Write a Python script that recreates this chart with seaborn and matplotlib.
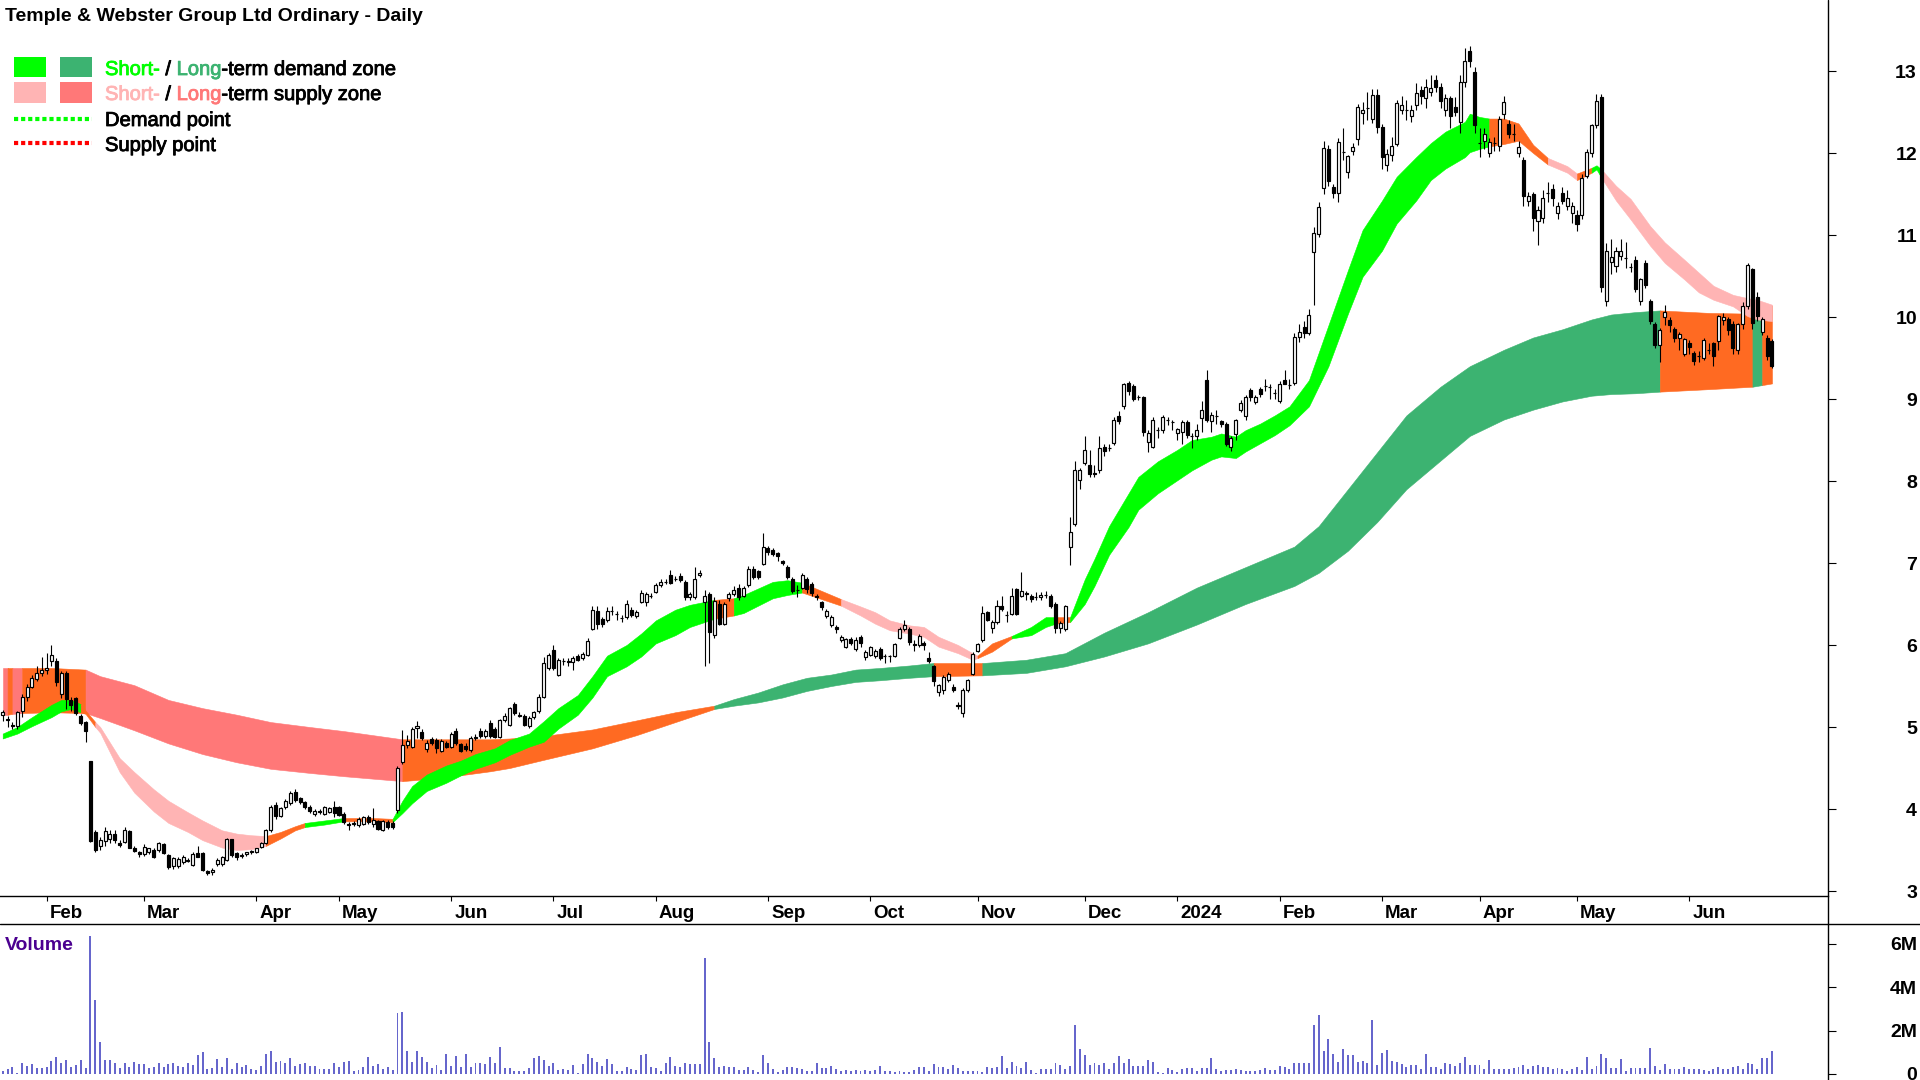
import numpy as np
import pandas as pd
import matplotlib
matplotlib.use("Agg")
import matplotlib.pyplot as plt
import seaborn as sns
from matplotlib.patches import Rectangle
from matplotlib.lines import Line2D
from matplotlib.transforms import blended_transform_factory
import matplotlib.patheffects as pe

# ------------------------------------------------------------------ data
title = "Temple & Webster Group Ltd Ordinary - Daily"
start_date = "2023-01-18"
end_date = "2024-06-27"
asx_holidays = ["2023-01-26", "2023-04-07", "2023-04-10", "2023-04-25", "2023-06-12",
                "2023-12-25", "2023-12-26", "2024-01-01", "2024-01-26", "2024-03-29",
                "2024-04-01", "2024-04-25", "2024-06-10"]
month_labels = ["Feb", "Mar", "Apr", "May", "Jun", "Jul", "Aug", "Sep", "Oct", "Nov",
                "Dec", "2024", "Feb", "Mar", "Apr", "May", "Jun"]

opens = [5.15,5.10,5.03,5.01,5.19,5.36,5.49,5.59,5.66,5.70,
 5.80,5.81,5.40,5.66,5.33,5.35,5.13,5.06,4.58,3.72,
 3.55,3.61,3.63,3.70,3.58,3.60,3.73,3.53,3.47,3.45,
 3.47,3.50,3.50,3.57,3.44,3.30,3.30,3.35,3.38,3.32,
 3.46,3.46,3.24,3.23,3.33,3.33,3.38,3.63,3.46,3.43,
 3.45,3.47,3.48,3.54,3.59,3.74,4.05,3.92,4.02,4.07,
 4.21,4.13,4.08,4.03,3.94,3.97,3.94,3.96,4.03,4.02,
 3.94,3.82,3.82,3.80,3.82,3.90,3.82,3.85,3.75,3.84,
 3.83,3.99,4.57,4.78,4.76,4.99,4.94,4.73,4.85,4.84,
 4.71,4.81,4.76,4.95,4.79,4.77,4.72,4.86,4.95,4.89,
 5.05,4.97,4.88,5.08,5.03,5.28,5.15,5.14,5.01,5.12,
 5.19,5.37,5.72,5.94,5.64,5.80,5.80,5.79,5.86,5.84,
 5.88,6.20,6.42,6.32,6.30,6.41,6.38,6.33,6.34,6.43,
 6.35,6.53,6.52,6.60,6.65,6.73,6.77,6.85,6.81,6.84,
 6.77,6.58,6.58,6.85,6.53,6.62,6.12,6.50,6.26,6.57,
 6.62,6.70,6.60,6.73,6.93,6.90,6.99,7.18,7.16,7.12,
 7.02,6.95,6.81,6.67,6.70,6.80,6.75,6.60,6.52,6.35,
 6.24,6.22,6.06,5.98,6.07,5.95,6.10,5.85,5.88,5.87,
 5.95,5.86,5.86,5.87,6.09,6.19,6.20,6.01,6.00,6.02,
 5.84,5.74,5.43,5.45,5.57,5.49,5.27,5.17,5.45,5.65,
 5.93,6.06,6.40,6.21,6.28,6.48,6.36,6.38,6.68,6.60,
 6.63,6.60,6.58,6.58,6.61,6.60,6.50,6.21,6.19,7.20,
 7.48,8.01,8.22,8.20,8.10,8.13,8.41,8.40,8.46,8.79,
 8.91,9.20,9.16,9.02,9.02,8.48,8.42,8.62,8.62,8.74,
 8.72,8.59,8.60,8.72,8.55,8.55,8.77,9.23,8.73,8.79,
 8.73,8.69,8.41,8.57,8.87,8.79,9.11,8.96,9.12,9.16,
 9.15,9.07,8.97,9.23,9.17,9.19,9.76,9.88,9.80,10.79,
 11.01,11.57,12.05,11.59,11.51,12.01,11.77,12.02,12.17,12.49,
 12.55,12.42,12.71,12.32,11.85,11.97,12.11,12.52,12.53,12.45,
 12.58,12.77,12.67,12.75,12.89,12.81,12.52,12.67,12.56,12.38,
 12.86,13.25,12.99,12.12,12.15,12.00,12.12,12.09,12.48,12.35,
 12.23,12.00,11.91,11.42,11.50,11.17,11.21,11.51,11.56,11.27,
 11.51,11.35,11.27,11.25,11.25,11.72,12.00,12.34,12.68,10.20,
 10.67,10.62,10.75,10.72,10.61,10.70,10.20,10.66,10.20,9.92,
 9.66,10.00,9.96,9.85,9.75,9.55,9.68,9.56,9.52,9.50,
 9.60,9.68,9.71,9.96,9.97,9.91,9.60,9.91,10.14,10.58,
 10.24,9.82,9.75,9.71]

highs = [5.21,5.13,5.06,5.20,5.40,5.52,5.63,5.75,5.85,5.90,
 6.00,5.84,5.68,5.68,5.36,5.37,5.16,5.07,4.59,3.75,
 3.66,3.78,3.74,3.74,3.62,3.78,3.75,3.55,3.49,3.57,
 3.53,3.52,3.60,3.58,3.45,3.41,3.41,3.44,3.40,3.47,
 3.55,3.48,3.26,3.28,3.40,3.43,3.65,3.64,3.48,3.46,
 3.48,3.50,3.53,3.60,3.76,4.05,4.08,4.03,4.12,4.22,
 4.24,4.15,4.10,4.05,4.00,4.00,4.04,4.03,4.10,4.04,
 3.96,3.84,3.85,3.90,3.92,3.93,4.01,3.87,3.86,3.86,
 3.85,4.52,4.96,4.90,5.00,5.07,4.97,4.84,4.88,4.86,
 4.85,4.83,4.94,4.99,4.81,4.80,4.89,4.92,4.99,4.97,
 5.08,5.00,5.10,5.17,5.25,5.31,5.18,5.16,5.13,5.20,
 5.40,5.85,5.90,6.00,5.84,5.84,5.84,5.86,5.89,5.91,
 6.08,6.47,6.48,6.34,6.46,6.48,6.42,6.36,6.55,6.46,
 6.43,6.67,6.65,6.63,6.76,6.80,6.80,6.92,6.84,6.88,
 6.79,6.65,6.95,6.92,6.67,6.65,6.58,6.55,6.52,6.65,
 6.72,6.74,6.72,6.96,6.96,6.92,7.37,7.21,7.18,7.14,
 7.04,6.97,6.83,6.73,6.88,6.83,6.77,6.62,6.54,6.44,
 6.36,6.25,6.12,6.09,6.10,6.10,6.12,5.94,5.99,5.95,
 5.97,5.89,5.88,6.03,6.22,6.30,6.22,6.06,6.14,6.05,
 5.91,5.76,5.53,5.63,5.67,5.52,5.30,5.47,5.59,5.91,
 6.03,6.48,6.42,6.30,6.55,6.60,6.42,6.70,6.70,6.89,
 6.66,6.62,6.65,6.65,6.66,6.62,6.52,6.29,6.49,7.56,
 8.24,8.16,8.55,8.38,8.20,8.55,8.45,8.45,8.78,8.85,
 9.20,9.22,9.18,9.05,9.04,8.62,8.78,8.66,8.80,8.78,
 8.75,8.65,8.74,8.74,8.58,8.70,8.98,9.35,8.84,8.86,
 8.75,8.72,8.55,8.76,8.99,9.05,9.14,9.05,9.15,9.25,
 9.18,9.12,9.22,9.35,9.25,9.80,9.92,9.95,10.10,11.10,
 11.40,12.15,12.10,11.62,12.18,12.30,11.98,12.12,12.60,12.62,
 12.75,12.78,12.78,12.35,12.05,12.20,12.65,12.70,12.65,12.58,
 12.85,12.82,12.90,12.95,12.95,12.85,12.72,12.70,12.68,12.95,
 13.28,13.30,13.05,12.30,12.30,12.18,12.20,12.45,12.70,12.40,
 12.35,12.15,11.95,11.52,11.52,11.35,11.55,11.65,11.62,11.40,
 11.58,11.55,11.40,11.30,11.75,12.05,12.35,12.72,12.72,10.90,
 10.95,10.85,10.95,10.92,10.66,10.75,10.48,10.70,10.22,9.94,
 9.86,10.15,10.00,9.88,9.82,9.75,9.72,9.58,9.58,9.74,
 9.68,9.70,10.03,10.05,10.00,9.95,9.93,10.18,10.66,10.60,
 10.30,10.00,9.78,9.73]

lows = [5.07,5.00,4.97,4.98,5.12,5.32,5.47,5.56,5.62,5.65,
 5.75,5.50,5.35,5.22,5.20,5.15,5.03,4.82,3.60,3.48,
 3.50,3.55,3.58,3.58,3.54,3.58,3.52,3.47,3.42,3.43,
 3.45,3.40,3.48,3.45,3.27,3.27,3.28,3.33,3.35,3.30,
 3.41,3.25,3.20,3.20,3.30,3.31,3.36,3.42,3.38,3.40,
 3.43,3.45,3.46,3.52,3.57,3.72,3.88,3.90,4.00,4.05,
 4.09,4.06,4.00,3.95,3.92,3.94,3.93,3.95,3.90,3.91,
 3.82,3.75,3.79,3.78,3.80,3.82,3.78,3.74,3.73,3.76,
 3.76,3.95,4.55,4.75,4.74,4.86,4.84,4.70,4.78,4.68,
 4.69,4.74,4.74,4.78,4.69,4.71,4.70,4.84,4.87,4.87,
 4.87,4.86,4.86,5.06,5.01,5.15,5.12,5.01,4.99,5.10,
 5.17,5.35,5.70,5.70,5.62,5.76,5.75,5.70,5.80,5.82,
 5.86,6.18,6.20,6.22,6.28,6.37,6.30,6.28,6.32,6.34,
 6.33,6.51,6.48,6.57,6.63,6.71,6.74,6.74,6.78,6.77,
 6.55,6.55,6.56,6.83,5.75,5.78,6.08,6.24,6.24,6.54,
 6.60,6.55,6.58,6.71,6.81,6.80,6.97,7.10,7.08,7.02,
 6.97,6.80,6.63,6.59,6.68,6.64,6.60,6.55,6.43,6.33,
 6.22,6.15,6.04,5.96,6.00,5.93,5.98,5.82,5.86,5.84,
 5.82,5.78,5.79,5.85,6.07,6.17,6.00,5.93,5.98,5.94,
 5.78,5.50,5.38,5.40,5.55,5.43,5.22,5.12,5.43,5.63,
 5.91,6.04,6.29,6.15,6.26,6.42,6.28,6.36,6.36,6.58,
 6.55,6.52,6.55,6.55,6.57,6.45,6.15,6.15,6.17,6.98,
 7.45,7.90,8.20,8.05,8.05,8.10,8.30,8.36,8.44,8.70,
 8.88,9.05,8.97,8.99,8.55,8.35,8.40,8.52,8.58,8.68,
 8.62,8.50,8.45,8.52,8.40,8.50,8.60,8.72,8.60,8.70,
 8.66,8.43,8.37,8.50,8.84,8.74,8.98,8.94,9.03,9.10,
 9.00,9.00,8.95,9.18,9.12,9.17,9.70,9.74,9.78,10.15,
 10.98,11.50,11.60,11.45,11.40,11.92,11.70,11.98,12.10,12.35,
 12.40,12.36,12.25,11.80,11.78,11.90,12.08,12.48,12.40,12.38,
 12.52,12.60,12.55,12.70,12.75,12.55,12.45,12.30,12.45,12.25,
 12.80,13.05,12.25,11.95,12.05,11.95,12.02,12.02,12.42,12.18,
 12.15,11.95,11.35,11.35,11.05,10.88,11.15,11.40,11.35,11.20,
 11.38,11.30,11.15,11.05,11.20,11.70,11.95,12.30,10.30,10.14,
 10.52,10.55,10.70,10.60,10.55,10.30,10.15,10.35,9.92,9.62,
 9.45,9.90,9.82,9.70,9.60,9.52,9.55,9.42,9.45,9.47,
 9.55,9.40,9.60,9.90,9.78,9.55,9.55,9.85,10.10,9.85,
 9.95,9.78,9.48,9.38]

closes = [5.18,5.09,5.01,5.18,5.36,5.49,5.60,5.66,5.70,5.72,
 5.88,5.55,5.66,5.34,5.27,5.17,5.05,4.95,3.61,3.50,
 3.62,3.73,3.70,3.62,3.56,3.74,3.53,3.49,3.45,3.54,
 3.52,3.41,3.58,3.46,3.29,3.40,3.39,3.41,3.37,3.45,
 3.42,3.26,3.22,3.26,3.38,3.41,3.63,3.44,3.42,3.44,
 3.47,3.49,3.52,3.58,3.74,4.03,3.91,4.01,4.10,4.19,
 4.11,4.08,4.02,3.97,3.98,3.96,4.02,4.01,3.95,3.93,
 3.84,3.80,3.83,3.88,3.90,3.84,3.87,3.76,3.85,3.78,
 3.78,4.50,4.78,4.83,4.97,5.01,4.86,4.81,4.80,4.75,
 4.83,4.76,4.91,4.81,4.71,4.73,4.86,4.88,4.89,4.95,
 4.89,4.88,5.08,5.13,5.23,5.17,5.14,5.03,5.11,5.18,
 5.37,5.78,5.88,5.72,5.82,5.81,5.79,5.84,5.82,5.89,
 6.05,6.43,6.26,6.26,6.42,6.42,6.38,6.33,6.50,6.36,
 6.40,6.63,6.62,6.60,6.73,6.77,6.77,6.76,6.81,6.79,
 6.59,6.62,6.81,6.88,6.60,6.16,6.54,6.26,6.50,6.62,
 6.67,6.59,6.69,6.93,6.83,6.83,7.20,7.14,7.11,7.09,
 7.00,6.83,6.66,6.67,6.85,6.68,6.64,6.58,6.46,6.42,
 6.34,6.20,6.10,6.07,6.03,6.06,6.02,5.92,5.97,5.93,
 5.84,5.87,5.86,6.01,6.19,6.24,6.04,6.00,6.11,6.00,
 5.80,5.56,5.51,5.61,5.65,5.45,5.26,5.45,5.57,5.89,
 6.01,6.39,6.31,6.28,6.48,6.44,6.36,6.60,6.38,6.66,
 6.62,6.56,6.58,6.61,6.61,6.47,6.21,6.27,6.47,7.38,
 8.13,8.13,8.38,8.09,8.09,8.40,8.36,8.40,8.74,8.73,
 9.18,9.10,9.00,9.02,8.60,8.58,8.74,8.62,8.78,8.74,
 8.72,8.63,8.72,8.56,8.55,8.62,8.87,8.74,8.80,8.79,
 8.69,8.45,8.53,8.74,8.95,9.02,9.03,9.03,9.06,9.16,
 9.15,9.07,9.18,9.18,9.17,9.76,9.82,9.80,10.03,11.02,
 11.34,12.06,11.66,11.51,12.14,12.01,11.96,12.07,12.56,12.53,
 12.55,12.71,12.32,11.95,11.99,12.09,12.61,12.58,12.53,12.53,
 12.73,12.70,12.81,12.79,12.81,12.63,12.67,12.45,12.50,12.86,
 13.12,13.12,12.34,12.12,12.23,12.14,12.12,12.41,12.62,12.23,
 12.23,12.07,11.47,11.47,11.21,11.30,11.45,11.51,11.45,11.35,
 11.41,11.45,11.35,11.14,11.70,12.01,12.34,12.64,10.36,10.80,
 10.73,10.80,10.80,10.72,10.61,10.34,10.46,10.39,9.95,9.66,
 9.84,10.06,9.90,9.75,9.79,9.73,9.63,9.46,9.52,9.72,
 9.60,9.52,10.01,10.00,9.84,9.62,9.91,10.14,10.64,9.93,
 10.01,9.97,9.53,9.40]

volume_m = [0.15,0.21,0.33,0.06,0.49,0.37,0.46,0.26,0.27,0.33,
 0.61,0.79,0.49,0.64,0.33,0.41,0.64,0.26,6.39,3.42,
 1.46,0.64,0.64,0.49,0.26,0.49,0.33,0.56,0.46,0.46,
 0.26,0.33,0.49,0.33,0.46,0.49,0.37,0.33,0.49,0.41,
 0.87,1.00,0.23,0.29,0.67,0.33,0.72,0.21,0.49,0.33,
 0.41,0.21,0.18,0.37,0.94,1.05,0.55,0.59,0.50,0.72,
 0.37,0.46,0.49,0.37,0.37,0.21,0.21,0.23,0.53,0.33,
 0.55,0.59,0.15,0.18,0.33,0.78,0.37,0.46,0.23,0.33,
 0.18,2.83,2.88,1.05,0.56,1.05,0.79,0.55,0.26,0.40,
 0.18,0.94,0.37,0.82,0.33,0.94,0.33,0.49,0.49,0.46,
 0.78,0.49,1.23,0.29,0.29,0.14,0.14,0.14,0.26,0.72,
 0.82,0.64,0.37,0.49,0.18,0.21,0.18,0.41,0.06,0.46,
 0.94,0.73,0.56,0.37,0.67,0.46,0.14,0.14,0.30,0.23,
 0.18,0.87,0.94,0.30,0.26,0.15,0.49,0.78,0.37,0.33,
 0.49,0.46,0.46,0.46,5.33,1.49,0.72,0.33,0.37,0.33,
 0.32,0.18,0.18,0.32,0.18,0.11,0.87,0.49,0.21,0.09,
 0.18,0.32,0.32,0.29,0.21,0.14,0.14,0.53,0.26,0.29,
 0.37,0.21,0.14,0.18,0.14,0.18,0.15,0.18,0.15,0.18,
 0.37,0.14,0.14,0.11,0.14,0.09,0.11,0.18,0.32,0.32,
 0.14,0.44,0.33,0.32,0.21,0.41,0.26,0.15,0.15,0.15,
 0.15,0.11,0.33,0.29,0.33,0.82,0.26,0.56,0.37,0.26,
 0.55,0.18,0.06,0.24,0.24,0.24,0.53,0.40,0.23,0.37,
 2.24,1.14,0.87,0.41,0.49,0.41,0.53,0.21,0.49,0.82,
 0.52,0.67,0.37,0.37,0.37,0.64,0.55,0.11,0.06,0.26,
 0.18,0.11,0.23,0.26,0.26,0.15,0.26,0.26,0.73,0.21,
 0.15,0.18,0.18,0.21,0.18,0.15,0.14,0.15,0.18,0.26,
 0.18,0.18,0.37,0.30,0.21,0.53,0.53,0.49,0.52,2.24,
 2.74,1.05,1.60,0.91,0.55,1.14,0.87,0.87,0.56,0.59,
 0.53,2.47,0.41,0.97,1.10,0.59,0.56,0.46,0.33,0.41,
 0.41,0.21,0.94,0.33,0.30,0.23,0.53,0.46,0.37,0.49,
 0.78,0.41,0.40,0.41,0.23,0.64,0.23,0.23,0.23,0.24,
 0.29,0.33,0.41,0.21,0.37,0.40,0.30,0.33,0.23,0.26,
 0.23,0.14,0.23,0.33,0.18,0.79,0.21,0.38,0.91,0.72,
 0.29,0.29,0.69,0.15,0.29,0.29,0.26,0.29,1.19,0.37,
 0.18,0.46,0.24,0.23,0.23,0.33,0.23,0.24,0.23,0.18,
 0.14,0.21,0.30,0.24,0.24,0.30,0.37,0.23,0.49,0.46,
 0.23,0.76,0.72,1.05]

# short-term zone: knot day, upper edge, lower edge, state of the following stretch
short_n = [0,3,6,10,12,14,16,17,19,20,24,27,31,34,38,41,45,48,51,54,57,60,62,66,70,76,80,82,84,87,
           91,94,97,101,104,108,111,114,118,121,124,128,131,134,138,141,146,150,152,155,158,161,164,172,176,179,182,186,189,192,
           196,199,200,203,207,211,214,216,219,222,224,227,231,233,237,241,244,248,250,253,255,258,261,264,268,272,276,279,283,286,
           290,293,296,300,301,303,305,308,311,314,317,321,323,326,327,328,331,334,338,341,345,348,351,355,358,360,363]
short_hi = [4.92,5.00,5.12,5.27,5.33,5.33,5.28,5.20,5.06,5.00,4.62,4.45,4.24,4.10,3.96,3.86,3.74,3.70,3.68,3.67,3.72,3.79,3.83,3.86,3.89,3.89,3.88,4.10,4.28,4.42,
            4.53,4.59,4.67,4.74,4.84,4.92,5.07,5.23,5.39,5.62,5.87,6.00,6.14,6.30,6.43,6.49,6.55,6.57,6.61,6.69,6.77,6.79,6.76,6.56,6.47,6.40,6.30,6.24,6.22,6.10,
            6.00,5.90,5.87,6.02,6.11,6.22,6.34,6.34,6.34,6.80,7.05,7.45,7.85,8.05,8.24,8.38,8.50,8.54,8.58,8.54,8.62,8.70,8.80,8.91,9.23,9.90,10.57,11.06,11.42,11.71,
            11.95,12.12,12.26,12.38,12.48,12.44,12.42,12.42,12.36,12.10,11.94,11.84,11.75,11.82,11.85,11.80,11.60,11.44,11.11,10.91,10.70,10.54,10.38,10.27,10.23,10.21,10.15]
short_lo = [4.86,4.92,5.01,5.12,5.19,5.22,5.18,5.16,5.00,4.93,4.45,4.20,3.97,3.83,3.72,3.62,3.53,3.50,3.51,3.55,3.64,3.74,3.78,3.81,3.85,3.85,3.84,3.95,4.07,4.22,
            4.32,4.41,4.49,4.57,4.66,4.76,4.82,4.98,5.15,5.36,5.62,5.74,5.86,6.02,6.12,6.22,6.32,6.36,6.39,6.48,6.57,6.61,6.64,6.48,6.36,6.26,6.18,6.14,6.10,5.98,
            5.90,5.82,5.84,5.92,6.08,6.12,6.22,6.26,6.28,6.50,6.72,7.10,7.44,7.65,7.85,8.01,8.13,8.26,8.30,8.28,8.36,8.46,8.56,8.68,8.91,9.40,10.04,10.49,10.81,11.14,
            11.42,11.67,11.81,11.95,12.01,12.05,12.08,12.11,12.15,12.00,11.86,11.76,11.67,11.76,11.80,11.70,11.42,11.19,10.87,10.66,10.46,10.30,10.21,10.13,10.01,9.97,9.95]
short_state = ("GGGGGGOOPPPPPPPPPPPOOOGGOOGGGG"
               "GGGGGGGGGGGGGGGGOGGGGGOPPPPPPP"
               "PPOOGGGO" + "G" * 22 +
               "GGGGGG" + "OOOO" + "PP" + "O" + "GG" + "P" * 12)

# long-term zone
long_n = [0,1,2,4,10,17,20,27,34,41,48,55,63,70,76,82,90,100,104,111,121,130,138,146,150,155,160,165,170,175,
          180,186,191,201,210,218,226,235,245,255,265,270,276,282,288,295,301,308,314,320,326,330,335,340,350,359,361,363]
long_hi = [5.72,5.72,5.72,5.72,5.72,5.70,5.62,5.51,5.33,5.23,5.15,5.06,5.00,4.95,4.90,4.85,4.85,4.85,4.86,4.89,4.97,5.08,5.18,5.26,5.34,5.42,5.52,5.60,5.64,5.70,
           5.72,5.75,5.78,5.78,5.82,5.90,6.15,6.40,6.70,6.95,7.20,7.45,7.90,8.35,8.80,9.15,9.40,9.60,9.75,9.85,9.97,10.03,10.06,10.08,10.05,10.04,10.10,10.14]
long_lo = [5.15,5.15,5.16,5.17,5.18,5.17,5.11,4.96,4.80,4.67,4.57,4.49,4.44,4.40,4.37,4.34,4.38,4.46,4.50,4.60,4.74,4.90,5.06,5.22,5.26,5.30,5.36,5.44,5.50,5.55,
           5.57,5.60,5.62,5.63,5.66,5.74,5.86,6.02,6.25,6.50,6.72,6.88,7.15,7.50,7.90,8.25,8.55,8.75,8.87,8.97,9.04,9.06,9.07,9.09,9.12,9.15,9.17,9.19]
long_state = ("SOSOOSSSSSSSSSS" + "OOOOOOOO" + "DDDDDDD" +
              "DDO" + "D" * 20 + "OODOO")

price_ticks = [3, 4, 5, 6, 7, 8, 9, 10, 11, 12, 13]
vol_ticks = [0, 2, 4, 6]
vol_tick_labels = ["0", "2M", "4M", "6M"]

# ------------------------------------------------------------------ style
sns.set_theme(style="white")
plt.rcParams["font.family"] = ["Liberation Sans", "DejaVu Sans"]

C_SHORT_D = "#00FF00"
C_LONG_D = "#3CB371"
C_SHORT_S = "#FFB4B4"
C_LONG_S = "#FF7878"
C_ORANGE = "#FF6A22"
C_VOL = "#6666CC"

W, H = 1920, 1080
fig = plt.figure(figsize=(W / 100, H / 100), dpi=100, facecolor="white")


def fx(px):
    return px / W


def fy(py):
    return 1 - py / H


PX_PER_DAY = 4.874
X0_PX = 2.7
AX_RIGHT = 1828
xlim = (-X0_PX / PX_PER_DAY, (AX_RIGHT - X0_PX) / PX_PER_DAY)

ax = fig.add_axes([0, fy(896), fx(AX_RIGHT), 896 / H])
axv = fig.add_axes([0, 0, fx(AX_RIGHT), (H - 924) / H])

# price mapping: 3 -> y 891 px, 82 px per unit
p_lo = 3 - (896 - 891) / 82
p_hi = 3 + 891 / 82
# volume mapping: 0 -> y 1074 px, 21.67 px per million
v_lo = -(1080 - 1074) / 21.67
v_hi = (1074 - 924) / 21.67

dates = pd.bdate_range(start_date, end_date, freq="C", holidays=asx_holidays)
n = min(len(dates), len(closes))
dates = dates[:n]
idx = np.arange(n)
o = np.array(opens[:n]); h = np.array(highs[:n]); l = np.array(lows[:n]); c = np.array(closes[:n])
h = np.maximum(h, np.maximum(o, c))
l = np.minimum(l, np.minimum(o, c))


# ------------------------------------------------------------------ zones
def draw_zone(a, ns, hi, lo, states, cmap, z):
    ns = np.asarray(ns, float); hi = np.asarray(hi, float); lo = np.asarray(lo, float)
    m = min(len(ns), len(hi), len(lo))
    st = list(states) + [states[-1]] * max(0, m - len(states))
    i = 0
    while i < m - 1:
        j = i
        while j + 1 < m - 1 and st[j + 1] == st[i]:
            j += 1
        sl = slice(i, j + 2)
        col = cmap[st[i]]
        a.fill_between(ns[sl], lo[sl], hi[sl], color=col, ec=col, lw=0.4, zorder=z)
        i = j + 1


draw_zone(ax, long_n, long_hi, long_lo, long_state,
          {"D": C_LONG_D, "S": C_LONG_S, "O": C_ORANGE}, 2)
draw_zone(ax, short_n, short_hi, short_lo, short_state,
          {"G": C_SHORT_D, "P": C_SHORT_S, "O": C_ORANGE}, 3)

# ------------------------------------------------------------------ candles
up = c >= o
ax.vlines(idx, l, h, color="black", lw=0.8, zorder=5)
ax.bar(idx[up], (c - o)[up], bottom=o[up], width=0.62, color="white",
       edgecolor="black", linewidth=0.85, zorder=6)
ax.bar(idx[~up], (o - c)[~up], bottom=c[~up], width=0.62, color="black",
       edgecolor="black", linewidth=0.85, zorder=6)

# ------------------------------------------------------------------ volume
vol_df = pd.DataFrame({"day": idx, "vol": np.array(volume_m[:n])})
sns.barplot(data=vol_df, x="day", y="vol", native_scale=True, ax=axv, color=C_VOL,
            saturation=1, width=0.4, errorbar=None, linewidth=0)

# ------------------------------------------------------------------ axes styling
for a in (ax, axv):
    a.set_xlim(*xlim)
    a.set_facecolor("white")
    for s in a.spines.values():
        s.set_visible(False)
    a.set_xlabel("")
    a.set_ylabel("")
    a.grid(False)

ax.set_ylim(p_lo, p_hi)
axv.set_ylim(v_lo, v_hi)
ax.spines["bottom"].set_visible(True)
ax.spines["bottom"].set_color("black")
ax.spines["bottom"].set_linewidth(1.0)

TICK_LEN = 5.8
PAD = (1917 - AX_RIGHT) / 1.3889 - TICK_LEN
for a, ticks, labels in ((ax, price_ticks, [str(t) for t in price_ticks]),
                         (axv, vol_ticks, vol_tick_labels)):
    a.yaxis.set_ticks_position("right")
    a.set_yticks(ticks)
    a.set_yticklabels(labels)
    a.tick_params(axis="y", which="both", direction="out", length=TICK_LEN, width=0.8,
                  color="black", pad=PAD, labelsize=14, labelcolor="black",
                  left=False, right=True, labelleft=False, labelright=True)
    for t in a.get_yticklabels():
        t.set_horizontalalignment("right")
        t.set_fontweight("bold")

# month ticks
mid = dates.year * 12 + dates.month
first_days = list(np.where(np.diff(mid) != 0)[0] + 1)
month_pos = first_days[:len(month_labels)]
ax.set_xticks(month_pos)
ax.set_xticklabels([])
ax.tick_params(axis="x", which="both", direction="out", length=3.6, width=0.8,
               color="black", bottom=True, top=False, labelbottom=False)
axv.set_xticks([])
trans = blended_transform_factory(ax.transData, fig.transFigure)
for pos, lab in zip(month_pos, month_labels):
    ax.text(pos + 3.2 / PX_PER_DAY, fy(918), lab, transform=trans, ha="left",
            va="baseline", fontsize=13.5, fontweight="bold", color="black", clip_on=False)

# frame lines
fig.add_artist(Line2D([0, 1], [fy(924)] * 2, color="black", lw=1.0, transform=fig.transFigure))
fig.add_artist(Line2D([fx(AX_RIGHT)] * 2, [0, 1], color="black", lw=1.0, transform=fig.transFigure))

# ------------------------------------------------------------------ title and legend
fig.text(fx(5), fy(21), title, fontsize=14, fontweight="bold", color="black",
         ha="left", va="baseline")
fig.text(fx(5), fy(950), "Volume", fontsize=14, fontweight="bold", color="#4B0090",
         ha="left", va="baseline")

for (x0, x1, y0, y1, col) in ((14, 46, 57, 77, C_SHORT_D), (60, 92, 57, 77, C_LONG_D),
                              (14, 46, 82, 103, C_SHORT_S), (60, 92, 82, 103, C_LONG_S)):
    fig.add_artist(Rectangle((fx(x0), fy(y1)), (x1 - x0) / W, (y1 - y0) / H,
                             transform=fig.transFigure, facecolor=col, edgecolor="none"))
for yy, col in ((119, "#00FF00"), (143, "#FF0000")):
    fig.add_artist(Line2D([fx(14), fx(92)], [fy(yy)] * 2, color=col, lw=3.0,
                          linestyle=(0, (1.0, 0.7)), dash_capstyle="butt",
                          transform=fig.transFigure))

renderer = fig.canvas.get_renderer()


def multicolor(x_px, y_px, parts, size=14.5):
    x = fx(x_px)
    for txt, col in parts:
        t = fig.text(x, fy(y_px), txt, fontsize=size, color=col, ha="left", va="baseline",
                     path_effects=[pe.withStroke(linewidth=0.6, foreground=col)])
        bb = t.get_window_extent(renderer)
        x = bb.x1 / W


multicolor(105, 75, [("Short-", C_SHORT_D), (" / ", "black"), ("Long", C_LONG_D),
                     ("-term demand zone", "black")])
multicolor(105, 100, [("Short-", C_SHORT_S), (" / ", "black"), ("Long", C_LONG_S),
                      ("-term supply zone", "black")])
multicolor(105, 126, [("Demand point", "black")])
multicolor(105, 151, [("Supply point", "black")])

fig.savefig("out.png", dpi=100, facecolor="white")
